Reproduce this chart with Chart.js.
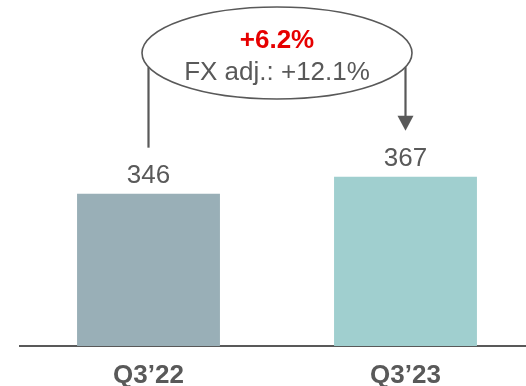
<!DOCTYPE html>
<html>
<head>
<meta charset="utf-8">
<script src="https://cdn.jsdelivr.net/npm/chart.js@4"></script>
<style>
  html, body { margin: 0; padding: 0; background: #fff; overflow: hidden; }
  #wrap { position: relative; width: 534px; height: 386px; }
</style>
</head>
<body>
<div id="wrap"><canvas id="c" width="534" height="386"></canvas></div>
<script>
const categories = ['Q3\u201922', 'Q3\u201923'];
const values = [346, 367];
const barColors = ['#99AFB7', '#A0CFCF'];
const growthLabel = '+6.2%';
const fxLabel = 'FX adj.: +12.1%';

const FONT = '"Liberation Sans", Arial, sans-serif';
const GREY = '#595959';

const overlay = {
  id: 'overlay',
  afterDatasetsDraw(chart) {
    const ctx = chart.ctx;
    const meta = chart.getDatasetMeta(0);
    const b0 = meta.data[0], b1 = meta.data[1];
    ctx.save();
    // value labels
    ctx.fillStyle = GREY;
    ctx.font = '26px ' + FONT;
    ctx.textAlign = 'center';
    ctx.textBaseline = 'alphabetic';
    meta.data.forEach((bar, i) => {
      ctx.fillText(String(values[i]), bar.x, bar.y - 11);
    });
    // ellipse
    const cx = (b0.x + b1.x) / 2, cy = 53, rx = 135, ry = 46;
    const ey = (x) => cy + ry * Math.sqrt(Math.max(0, 1 - Math.pow((x - cx) / rx, 2)));
    ctx.strokeStyle = GREY;
    ctx.lineWidth = 2.2;
    ctx.beginPath();
    ctx.moveTo(b0.x, ey(b0.x));
    ctx.lineTo(b0.x, b0.y - 46);
    ctx.stroke();
    ctx.beginPath();
    ctx.moveTo(b1.x, ey(b1.x));
    ctx.lineTo(b1.x, b1.y - 60);
    ctx.stroke();
    ctx.fillStyle = GREY;
    ctx.beginPath();
    ctx.moveTo(b1.x - 8, b1.y - 61);
    ctx.lineTo(b1.x + 8, b1.y - 61);
    ctx.lineTo(b1.x, b1.y - 46);
    ctx.closePath();
    ctx.fill();
    ctx.beginPath();
    ctx.ellipse(cx, cy, rx, ry, 0, 0, Math.PI * 2);
    ctx.fillStyle = '#fff';
    ctx.fill();
    ctx.lineWidth = 1.6;
    ctx.stroke();
    ctx.textAlign = 'center';
    ctx.fillStyle = '#E60000';
    ctx.font = 'bold 26px ' + FONT;
    ctx.fillText(growthLabel, cx, 48);
    ctx.fillStyle = GREY;
    ctx.font = '26px ' + FONT;
    ctx.fillText(fxLabel, cx, 80);
    ctx.restore();
  }
};

new Chart(document.getElementById('c'), {
  type: 'bar',
  data: {
    labels: categories,
    datasets: [{
      data: values,
      backgroundColor: barColors,
      borderWidth: 0,
      categoryPercentage: 1,
      barPercentage: 0.556
    }]
  },
  options: {
    responsive: false,
    animation: false,
    events: [],
    layout: { padding: { left: 20, right: 0, top: 0, bottom: 0 } },
    plugins: { legend: { display: false }, tooltip: { enabled: false } },
    scales: {
      x: {
        grid: { display: false },
        border: { display: true, color: GREY, width: 2 },
        ticks: { color: GREY, padding: 8.5, font: { family: FONT, size: 26, weight: 'bold', lineHeight: 1 } },
        afterFit(scale) { scale.height = 40; }
      },
      y: {
        display: false,
        min: 158,
        max: 585
      }
    }
  },
  plugins: [overlay]
});
</script>
</body>
</html>
